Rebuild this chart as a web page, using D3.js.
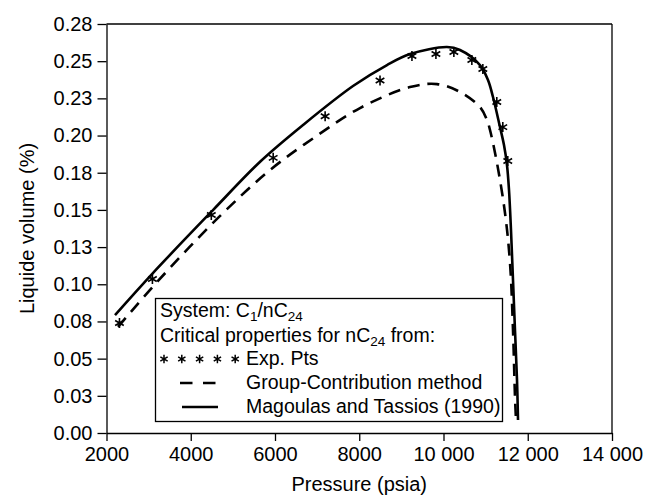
<!DOCTYPE html>
<html><head><meta charset="utf-8">
<script src="https://cdn.jsdelivr.net/npm/d3@7/dist/d3.min.js"></script>
<style>body{margin:0;background:#fff}svg{display:block}text{font-family:"Liberation Sans",Arial,Helvetica,sans-serif;fill:#000}</style>
</head><body>
<svg id="c" width="645" height="496"></svg>
<script>
// Data (pressure in psia, liquid volume)
const xTicks = [2000, 4000, 6000, 8000, 10000, 12000, 14000];
const xTickLabels = ["2000", "4000", "6000", "8000", "10 000", "12 000", "14 000"];
const yTicks = [0, 0.025, 0.05, 0.075, 0.1, 0.125, 0.15, 0.175, 0.2, 0.225, 0.25, 0.275];
const yTickLabels = ["0.00", "0.03", "0.05", "0.08", "0.10", "0.13", "0.15", "0.18", "0.20", "0.23", "0.25", "0.28"];

// Experimental points
const expP = [2308, 3090, 4488, 5957, 7190, 8493, 9251, 9820, 10246, 10673, 10934, 11265, 11408, 11526];
const expV = [0.074, 0.1035, 0.1466, 0.185, 0.213, 0.237, 0.2535, 0.2548, 0.2562, 0.2508, 0.2447, 0.2226, 0.2057, 0.1829];

// Group-Contribution method (dashed)
const gcP = [2273, 3199, 4647, 5881, 6950, 8018, 9205, 9846, 10392, 10866, 11032, 11104, 11270, 11460, 11579, 11650, 11697, 11721];
const gcV = [0.0713, 0.1015, 0.1446, 0.1768, 0.199, 0.2185, 0.2326, 0.2346, 0.2293, 0.2192, 0.2105, 0.2037, 0.1815, 0.1479, 0.1143, 0.0692, 0.0242, 0.0087];

// Magoulas and Tassios (1990) (solid)
const mtP = [2202, 3080, 4528, 5665, 6665, 7852, 8659, 9205, 10083, 10392, 10866, 11056, 11175, 11341, 11436, 11507, 11555, 11602, 11650, 11697, 11745, 11769];
const mtV = [0.0793, 0.1069, 0.1499, 0.1829, 0.2071, 0.2333, 0.2474, 0.2548, 0.2595, 0.2575, 0.2474, 0.2373, 0.2259, 0.2057, 0.1936, 0.1802, 0.1634, 0.1365, 0.1028, 0.0692, 0.0356, 0.0087];

const svg = d3.select("#c");
const L = 106.5, R = 612, T = 24, B = 433;
const x = d3.scaleLinear().domain([2000, 14000]).range([L, R]);
const y = d3.scaleLinear().domain([0, 0.275]).range([B, T]);
const FS = 20, LFS = 19.5;

// axes
const xa = svg.append("g").attr("transform", `translate(0,${B})`)
  .call(d3.axisBottom(x).tickValues(xTicks).tickFormat((d, i) => xTickLabels[i]).tickSize(8).tickSizeOuter(0).tickPadding(6));
const ya = svg.append("g").attr("transform", `translate(${L},0)`)
  .call(d3.axisLeft(y).tickValues(yTicks).tickFormat((d, i) => yTickLabels[i]).tickSize(9).tickSizeOuter(0).tickPadding(5));
[xa, ya].forEach(g => {
  g.selectAll("path,line").attr("stroke", "#000").attr("stroke-width", 1.3);
  g.selectAll("text").attr("font-size", FS).attr("fill", "#000")
    .style("font-family", '"Liberation Sans",Arial,sans-serif');
});
svg.append("line").attr("x1", L).attr("x2", R).attr("y1", T).attr("y2", T).attr("stroke", "#000").attr("stroke-width", 1.3);
svg.append("line").attr("x1", R).attr("x2", R).attr("y1", T).attr("y2", B).attr("stroke", "#000").attr("stroke-width", 1.3);

// titles
svg.append("text").attr("x", (L + R) / 2).attr("y", 491).attr("text-anchor", "middle").attr("font-size", FS).text("Pressure (psia)");
svg.append("text").attr("transform", `translate(34,${(T + B) / 2}) rotate(-90)`).attr("text-anchor", "middle").attr("font-size", FS).text("Liquide volume (%)");

// curves
const line = d3.line().x(d => x(d[0])).y(d => y(d[1])).curve(d3.curveCatmullRom.alpha(0.5));
svg.append("path").datum(gcP.map((p, i) => [p, gcV[i]])).attr("d", line)
  .attr("fill", "none").attr("stroke", "#000").attr("stroke-width", 2.6).attr("stroke-dasharray", "12,8");
svg.append("path").datum(mtP.map((p, i) => [p, mtV[i]])).attr("d", line)
  .attr("fill", "none").attr("stroke", "#000").attr("stroke-width", 2.6);

const star = d3.symbol().type(d3.symbolAsterisk).size(70);
svg.append("g").selectAll("path").data(expP.map((p, i) => [p, expV[i]])).join("path")
  .attr("transform", d => `translate(${x(d[0])},${y(d[1])})`)
  .attr("d", star).attr("fill", "none").attr("stroke", "#000").attr("stroke-width", 1.6);

// legend
const lg = svg.append("g");
lg.append("rect").attr("x", 155.5).attr("y", 298.5).attr("width", 347).attr("height", 123)
  .attr("fill", "#fff").attr("stroke", "#000").attr("stroke-width", 1.3);
const t1 = lg.append("text").attr("x", 160).attr("y", 317).attr("font-size", LFS);
t1.append("tspan").text("System: C");
t1.append("tspan").attr("font-size", 13.5).attr("dy", 4).text("1");
t1.append("tspan").attr("dy", -4).text("/nC");
t1.append("tspan").attr("font-size", 13.5).attr("dy", 4).text("24");
const t2 = lg.append("text").attr("x", 160).attr("y", 342).attr("font-size", LFS);
t2.append("tspan").text("Critical properties for nC");
t2.append("tspan").attr("font-size", 13.5).attr("dy", 4).text("24");
t2.append("tspan").attr("dy", -4).text(" from:");
const legStars = [0, 1, 2, 3, 4];
lg.selectAll("path.ls").data(legStars).join("path").attr("class", "ls")
  .attr("transform", d => `translate(${164 + d * 17.8},359)`)
  .attr("d", d3.symbol().type(d3.symbolAsterisk).size(50)).attr("fill", "none").attr("stroke", "#000").attr("stroke-width", 1.5);
lg.append("text").attr("x", 246).attr("y", 365).attr("font-size", LFS).text("Exp. Pts");
lg.append("line").attr("x1", 180).attr("x2", 218).attr("y1", 383).attr("y2", 383)
  .attr("stroke", "#000").attr("stroke-width", 2.6).attr("stroke-dasharray", "12.5,10.5");
lg.append("text").attr("x", 246).attr("y", 389).attr("font-size", LFS).text("Group-Contribution method");
lg.append("line").attr("x1", 182).attr("x2", 218).attr("y1", 407).attr("y2", 407)
  .attr("stroke", "#000").attr("stroke-width", 2.6);
lg.append("text").attr("x", 246).attr("y", 413).attr("font-size", LFS).text("Magoulas and Tassios (1990)");
</script>
</body></html>
